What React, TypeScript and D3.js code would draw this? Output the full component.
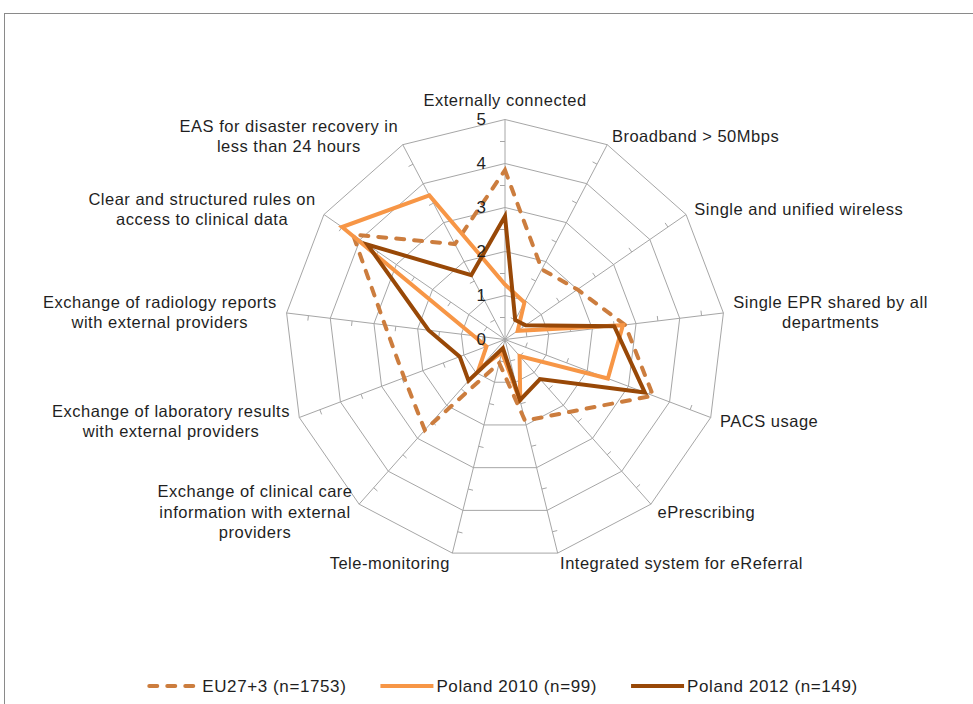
import { useEffect, useRef } from "react";
import * as d3 from "d3";

const AXES = [
  "Externally connected",
  "Broadband > 50Mbps",
  "Single and unified wireless",
  "Single EPR shared by all\ndepartments",
  "PACS usage",
  "ePrescribing",
  "Integrated system for eReferral",
  "Tele-monitoring",
  "Exchange of clinical care\ninformation with external\nproviders",
  "Exchange of laboratory results\nwith external providers",
  "Exchange of radiology reports\nwith external providers",
  "Clear and structured rules on\naccess to clinical data",
  "EAS for disaster recovery in\nless than 24 hours",
];

const EU = [3.85, 1.8, 2.0, 2.75, 3.6, 2.2, 1.9, 0.55, 2.75, 2.45, 2.75, 4.2, 2.45];
const PL2010 = [1.25, 0.95, 0.35, 2.7, 2.5, 0.5, 1.45, 0.3, 0.9, 0.45, 0.72, 4.5, 3.7];
const PL2012 = [2.8, 0.5, 0.57, 2.5, 3.4, 1.2, 1.42, 0.2, 1.25, 1.1, 1.75, 3.8, 1.65];

const TICKS = [0, 1, 2, 3, 4, 5];
const MINOR_TICKS = [0.5, 1.5, 2.5, 3.5, 4.5];
const SERIES_NAMES = ["EU27+3 (n=1753)", "Poland 2010 (n=99)", "Poland 2012 (n=149)"];

const FONT = "'Liberation Sans', Arial, sans-serif";

export default function App() {
  const svgRef = useRef<SVGSVGElement | null>(null);

  useEffect(() => {
    if (!svgRef.current) return;
    const W = 973, H = 704;
    const cx = 505, cy = 339.5, R = 220;

    const svg = d3.select(svgRef.current);
    svg.selectAll("*").remove();
    svg.attr("width", W).attr("height", H);

    // outer frame (runs off right and bottom edges)
    svg.append("rect").attr("x", 4.5).attr("y", 13.5).attr("width", 990).attr("height", 710)
      .attr("fill", "#fff").attr("stroke", "#8a8a8a").attr("stroke-width", 1);

    const r = d3.scaleLinear().domain([0, 5]).range([0, R]);
    const ang = d3.scaleLinear().domain([0, AXES.length]).range([0, 2 * Math.PI]);
    const dir = (i: number) => [Math.sin(ang(i)), -Math.cos(ang(i))];

    const g = svg.append("g").attr("transform", `translate(${cx},${cy})`);

    const ring = d3.lineRadial<number>()
      .angle((_, i) => ang(i))
      .radius((d) => r(d))
      .curve(d3.curveLinearClosed);

    // grid rings
    TICKS.slice(1).forEach((t) => {
      g.append("path").attr("d", ring(AXES.map(() => t)) as string)
        .attr("fill", "none").attr("stroke", "#a6a6a6").attr("stroke-width", 1);
    });

    // spokes + minor ticks
    AXES.forEach((_, i) => {
      const [dx, dy] = dir(i);
      g.append("line").attr("x1", 0).attr("y1", 0).attr("x2", dx * r(5)).attr("y2", dy * r(5))
        .attr("stroke", "#a6a6a6").attr("stroke-width", 1);
      MINOR_TICKS.forEach((t) => {
        const x = dx * r(t), y = dy * r(t);
        g.append("line").attr("x1", x).attr("y1", y)
          .attr("x2", x + dy * 5).attr("y2", y - dx * 5)
          .attr("stroke", "#a6a6a6").attr("stroke-width", 1);
      });
    });

    // series
    const series = [
      { values: EU, color: "#cc7d3e", dash: "8,10" },
      { values: PL2010, color: "#f79646", dash: null },
      { values: PL2012, color: "#984807", dash: null },
    ];
    series.forEach((s) => {
      const p = g.append("path").attr("d", ring(s.values) as string)
        .attr("fill", "none").attr("stroke", s.color).attr("stroke-width", 4)
        .attr("stroke-linejoin", "miter");
      if (s.dash) p.attr("stroke-dasharray", s.dash).attr("stroke-linecap", "round");
    });

    // value labels on first axis (drawn above the series)
    TICKS.forEach((t) => {
      g.append("text").attr("x", -19).attr("y", -r(t))
        .attr("text-anchor", "end").attr("dominant-baseline", "central")
        .attr("font-family", FONT).attr("font-size", 17).attr("fill", "#1f1f1f")
        .text(String(t));
    });

    // axis labels
    const lineH = 20.5;
    AXES.forEach((label, i) => {
      const [dx, dy] = dir(i);
      const ax = dx * (r(5) + 10), ay = dy * (r(5) + 10);
      const lines = label.split("\n");
      const t = g.append("text").attr("font-family", FONT).attr("font-size", 16.5)
        .attr("letter-spacing", 0.5).attr("fill", "#1f1f1f").attr("text-anchor", "middle");
      lines.forEach((ln, k) => {
        t.append("tspan").attr("x", 0).attr("y", (k - (lines.length - 1) / 2) * lineH)
          .attr("dominant-baseline", "central").text(ln);
      });
      const w = (t.node() as SVGTextElement).getBBox().width;
      let x = ax, y = ay;
      if (Math.abs(dx) < 0.1) {
        y = ay - (lines.length * lineH) / 2 + 1;
      } else if (dx > 0) {
        x = ax + w / 2;
      } else {
        x = ax - w / 2;
      }
      t.attr("transform", `translate(${x},${y})`);
    });

    // legend
    const legend = svg.append("g").attr("transform", `translate(0,686)`);
    const items: { x: number; w: number }[] = [];
    const sampleW = 53, gapS = 3, gapItem = 34;
    const texts = SERIES_NAMES.map((name) =>
      legend.append("text").attr("font-family", FONT).attr("font-size", 17)
        .attr("letter-spacing", 0.6).attr("fill", "#1f1f1f").attr("dominant-baseline", "central")
        .text(name)
    );
    let total = 0;
    texts.forEach((t, i) => {
      const w = (t.node() as SVGTextElement).getComputedTextLength();
      items.push({ x: total, w });
      total += sampleW + gapS + w + (i < texts.length - 1 ? gapItem : 0);
    });
    const x0 = 502 - total / 2;
    series.forEach((s, i) => {
      const sx = x0 + items[i].x;
      const ln = legend.append("line").attr("x1", sx + (s.dash ? 3 : 0)).attr("x2", sx + sampleW - (s.dash ? 2 : 0))
        .attr("y1", 0).attr("y2", 0).attr("stroke", s.color).attr("stroke-width", 4);
      if (s.dash) ln.attr("stroke-dasharray", s.dash).attr("stroke-linecap", "round");
      texts[i].attr("x", sx + sampleW + gapS);
    });
  }, []);

  return (
    <svg
      ref={svgRef}
      width={973}
      height={704}
      style={{ position: "absolute", left: 0, top: 0, display: "block", background: "#fff" }}
    />
  );
}
